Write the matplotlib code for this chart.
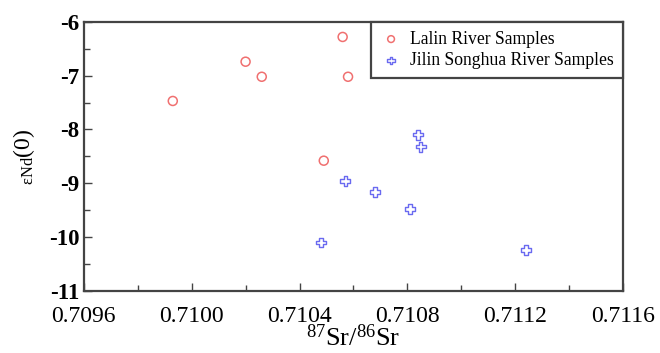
import matplotlib
matplotlib.use("Agg")
import matplotlib.pyplot as plt
from matplotlib.ticker import MultipleLocator, FixedLocator

plt.rcParams['font.family'] = ['Liberation Serif', 'DejaVu Serif']
plt.rcParams['mathtext.fontset'] = 'custom'
plt.rcParams['mathtext.rm'] = 'Liberation Serif'
plt.rcParams['mathtext.it'] = 'Liberation Serif:italic'
plt.rcParams['mathtext.bf'] = 'Liberation Serif:bold'

lalin_sr = [0.70993, 0.71020, 0.71026, 0.71049, 0.71056, 0.71058]
lalin_nd = [-7.47, -6.74, -7.02, -8.58, -6.28, -7.02]

jilin_sr = [0.71084, 0.71085, 0.71057, 0.71068, 0.71081, 0.71124, 0.71048]
jilin_nd = [-8.10, -8.32, -8.96, -9.16, -9.48, -10.24, -10.10]

xticks = [0.7096, 0.7100, 0.7104, 0.7108, 0.7112, 0.7116]
xticklabels = ["0.7096", "0.7100", "0.7104", "0.7108", "0.7112", "0.7116"]
yticks = [-11, -10, -9, -8, -7, -6]
yticklabels = ["-11", "-10", "-9", "-8", "-7", "-6"]

fig = plt.figure(figsize=(6.6, 3.53), dpi=100)
ax = fig.add_axes([0.127, 0.176, 0.817, 0.762])

ax.scatter(lalin_sr, lalin_nd, s=42, marker='o', facecolors='none',
           edgecolors='#f07070', linewidths=1.1, label='Lalin River Samples', zorder=3)
ax.scatter(jilin_sr, jilin_nd, s=50, marker='P', facecolors='none',
           edgecolors='#6a6af0', linewidths=1.0, label='Jilin Songhua River Samples', zorder=3)

ax.set_xlim(0.7096, 0.7116)
ax.set_ylim(-11, -6)
ax.xaxis.set_major_locator(FixedLocator(xticks))
ax.set_xticklabels(xticklabels, fontsize=17)
ax.xaxis.set_minor_locator(MultipleLocator(0.0002))
ax.yaxis.set_major_locator(FixedLocator(yticks))
ax.set_yticklabels(yticklabels, fontsize=16.5, fontweight='bold')
ax.yaxis.set_minor_locator(MultipleLocator(0.5))

ax.tick_params(which='both', direction='in', top=False, right=False, color='#444444')
ax.tick_params(which='major', length=6, width=1.0)
ax.tick_params(which='minor', length=4, width=1.0)
ax.tick_params(axis='x', pad=11)
ax.tick_params(axis='y', pad=3)

for sp in ax.spines.values():
    sp.set_color('#444444')
    sp.set_linewidth(1.6)

ax.set_xlabel(r'$\mathregular{^{87}Sr/^{86}Sr}$', fontsize=19, labelpad=-2)
ax.set_ylabel(r'$\mathregular{_{\epsilon Nd}(0)}$', fontsize=17, labelpad=9)

leg = ax.legend(loc='upper right', frameon=True, fancybox=False, fontsize=12.7,
                borderaxespad=0, handletextpad=0.45, borderpad=0.5,
                labelspacing=0.25, markerscale=0.75, handlelength=1.3,
                scatterpoints=1)
leg.get_frame().set_edgecolor('#444444')
leg.get_frame().set_linewidth(1.6)
leg.get_frame().set_alpha(1)
for t in leg.get_texts():
    t.set_ha('center')

fig.savefig('out.png', dpi=100)
